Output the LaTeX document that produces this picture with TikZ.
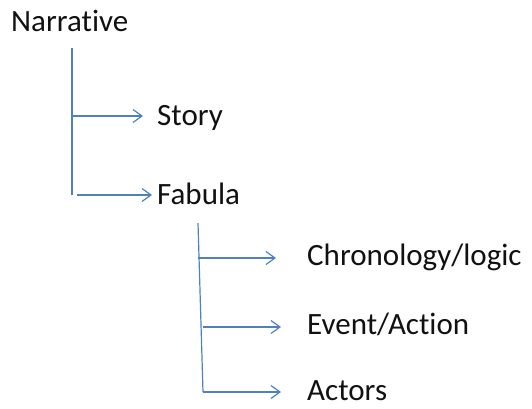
\documentclass[tikz,border=0pt]{standalone}
\usepackage{fontspec}
\setmainfont{Carlito}[Ligatures=NoCommon]
\usetikzlibrary{arrows.meta}
\definecolor{linkblue}{HTML}{4F81BD}
\definecolor{inkgray}{HTML}{111111}
\tikzset{
  label/.style={anchor=base west, inner sep=0pt, text=inkgray, font=\fontsize{31}{34}\selectfont},
  link/.style={draw=linkblue, line width=1.2pt},
  arr/.style={link, -{Straight Barb[length=9pt, width=13pt, line width=1.2pt]}}
}
\begin{document}
\begin{tikzpicture}[x=1pt, y=-1pt]
  \useasboundingbox (0,0) rectangle (532,408);
  % labels
  \node[label] (narr)  at (11,31)  {Narrative};
  \node[label] (story) at (157,125) {Story};
  \node[label] (fab)   at (157,204) {Fabula};
  \node[label] (chron) at (307,265) {Chronology/logic};
  \node[label] (event) at (307,334) {Event/Action};
  \node[label] (act)   at (307,400) {Actors};
  % first level
  \coordinate (t1top) at (72,48);
  \coordinate (t1bot) at (72,195);
  \coordinate (b1)    at (72,116);
  \coordinate (b2)    at (77,195);
  \coordinate (e1)    at (143,116);
  \coordinate (e2)    at (152,195);
  \draw[link] (t1top) -- (t1bot);
  \draw[arr] (b1) -- (e1);
  \draw[arr] (b2) -- (e2);
  % second level
  \coordinate (t2top) at (198,223);
  \coordinate (t2bot) at (203,392);
  \coordinate (c1) at (198,258);
  \coordinate (c2) at (203,327);
  \coordinate (c3) at (203,392);
  \coordinate (f1) at (276,258);
  \coordinate (f2) at (281,327);
  \coordinate (f3) at (281,392);
  \draw[link] (t2top) -- (t2bot);
  \draw[arr] (c1) -- (f1);
  \draw[arr] (c2) -- (f2);
  \draw[arr] (c3) -- (f3);
\end{tikzpicture}
\end{document}
